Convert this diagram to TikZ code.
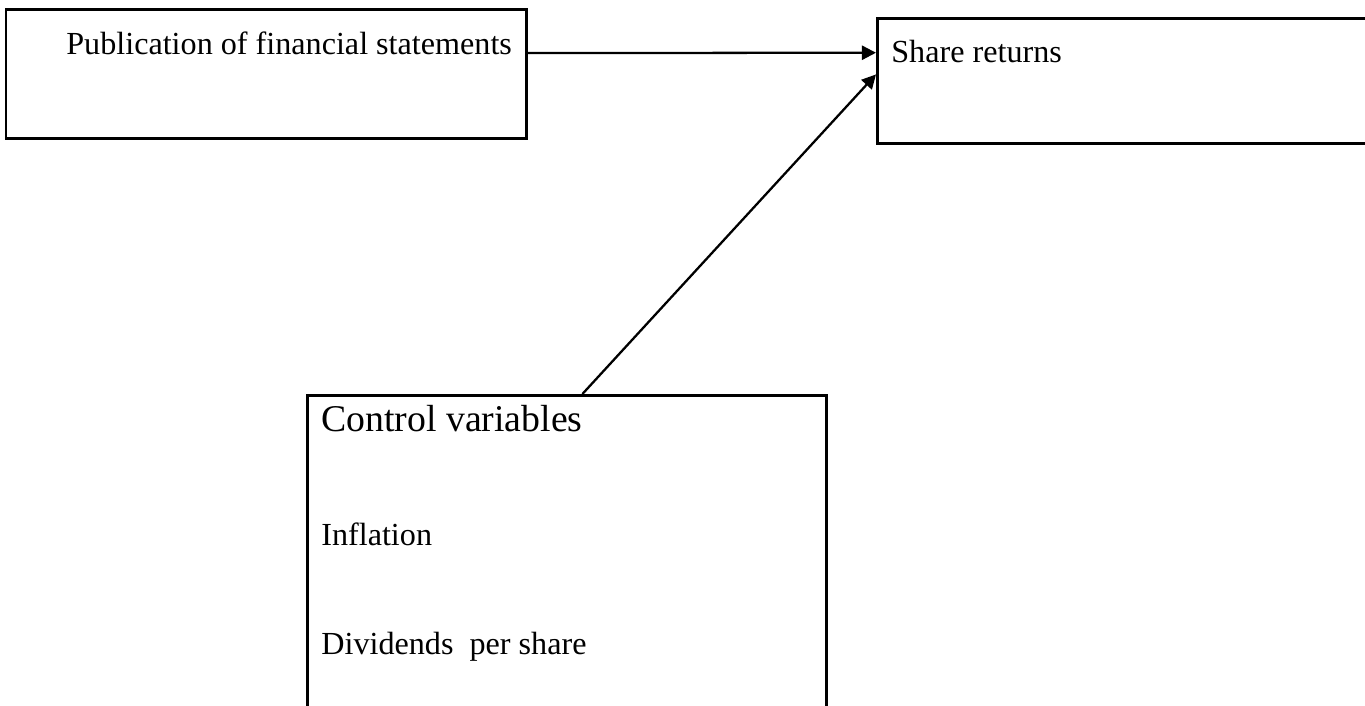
\documentclass[tikz,border=0pt]{standalone}
\usepackage{fontspec}
\setmainfont{Liberation Serif}
\usepackage{tikz}
\usetikzlibrary{positioning, arrows.meta, calc}
\definecolor{ink}{HTML}{000000}
\tikzset{
  frame/.style   = {rectangle, draw=ink, line width=1.5pt, inner sep=0pt,
                    anchor=north west},
  lbl/.style     = {inner sep=0pt, anchor=base west, text=ink,
                    font=\fontsize{18.3}{22}\selectfont},
  biglbl/.style  = {lbl, font=\fontsize{21.5}{26}\selectfont},
  ar/.style      = {-{Triangle[length=8pt,width=8pt]}, line width=1.3pt, draw=ink},
}

\begin{document}
\begin{tikzpicture}[x=0.02cm, y=-0.02cm]
  \useasboundingbox (0,0) rectangle (1365,706);
  \clip (0,0) rectangle (1365,706);

  % boxes
  \node[frame, minimum width=10.41cm, minimum height=2.57cm] (pub) at (4.5,8.5) {};
  \node[frame, minimum width=11cm, minimum height=2.5cm] (ret) at (876,17) {};
  \node[frame, minimum width=10.38cm, minimum height=8cm] (ctrl) at (306,394) {};

  % texts
  \node[lbl] (pubtxt) at (66,55) {Publication of financial statements};
  \node[lbl] (rettxt) at (891,63) {Share returns};
  \node[biglbl] (ctrltxt) at (321,431) {Control variables};
  \node[lbl] (infl) at (321,545) {Inflation};
  \node[lbl] (dps) at (321,654) {Dividends\ \ per share};

  % arrows
  \draw[ar] ($(pub.north east)!0.34!(pub.south east)$) -- ($(ret.north west)!0.28!(ret.south west)$);
  \draw[ar] ($(ctrl.north west)!0.53!(ctrl.north east)$) -- ($(ret.north west)!0.45!(ret.south west)$);

\end{tikzpicture}
\end{document}
